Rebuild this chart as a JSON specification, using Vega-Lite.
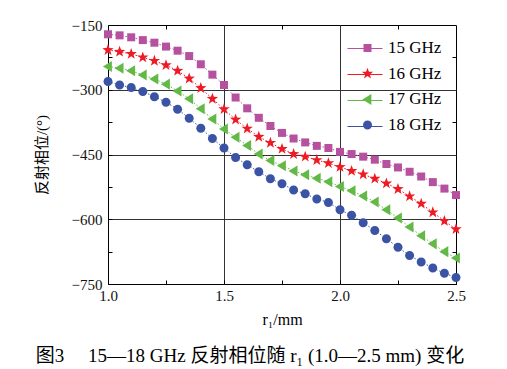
{
  "$schema": "https://vega.github.io/schema/vega-lite/v6.json",
  "width": 348,
  "height": 259,
  "autosize": "none",
  "padding": {"left": 108, "top": 25, "right": 51, "bottom": 85},
  "background": "white",
  "config": {
    "view": {"stroke": "#000", "strokeWidth": 1},
    "font": "Liberation Serif",
    "axis": {"labelFont": "Liberation Serif", "labelFontSize": 15, "labelColor": "#111", "tickColor": "#000", "domain": false, "labelFlush": false}
  },
  "title": {
    "text": "图3\u3000 15—18 GHz 反射相位随 r₁ (1.0—2.5 mm) 变化",
    "orient": "bottom",
    "anchor": "middle",
    "dx": -32,
    "offset": 20,
    "font": "Liberation Serif, Noto Sans CJK SC",
    "fontSize": 19,
    "fontWeight": "normal",
    "color": "#000"
  },
  "datasets": {
    "phase": [
      {"r1": 1.00, "phase": -171.5, "freq": "15 GHz"}, {"r1": 1.05, "phase": -174, "freq": "15 GHz"}, {"r1": 1.10, "phase": -178.5, "freq": "15 GHz"}, {"r1": 1.15, "phase": -185, "freq": "15 GHz"}, {"r1": 1.20, "phase": -191, "freq": "15 GHz"}, {"r1": 1.25, "phase": -200, "freq": "15 GHz"}, {"r1": 1.30, "phase": -209.5, "freq": "15 GHz"}, {"r1": 1.35, "phase": -222, "freq": "15 GHz"}, {"r1": 1.40, "phase": -241, "freq": "15 GHz"}, {"r1": 1.45, "phase": -265, "freq": "15 GHz"}, {"r1": 1.50, "phase": -289, "freq": "15 GHz"}, {"r1": 1.55, "phase": -318, "freq": "15 GHz"}, {"r1": 1.60, "phase": -343, "freq": "15 GHz"}, {"r1": 1.65, "phase": -365, "freq": "15 GHz"}, {"r1": 1.70, "phase": -384, "freq": "15 GHz"}, {"r1": 1.75, "phase": -400, "freq": "15 GHz"}, {"r1": 1.80, "phase": -413, "freq": "15 GHz"}, {"r1": 1.85, "phase": -422, "freq": "15 GHz"}, {"r1": 1.90, "phase": -430, "freq": "15 GHz"}, {"r1": 1.95, "phase": -435, "freq": "15 GHz"}, {"r1": 2.00, "phase": -444, "freq": "15 GHz"}, {"r1": 2.05, "phase": -449, "freq": "15 GHz"}, {"r1": 2.10, "phase": -455, "freq": "15 GHz"}, {"r1": 2.15, "phase": -462, "freq": "15 GHz"}, {"r1": 2.20, "phase": -472, "freq": "15 GHz"}, {"r1": 2.25, "phase": -480, "freq": "15 GHz"}, {"r1": 2.30, "phase": -490, "freq": "15 GHz"}, {"r1": 2.35, "phase": -501, "freq": "15 GHz"}, {"r1": 2.40, "phase": -514, "freq": "15 GHz"}, {"r1": 2.45, "phase": -529, "freq": "15 GHz"}, {"r1": 2.50, "phase": -544, "freq": "15 GHz"},
      {"r1": 1.00, "phase": -208, "freq": "16 GHz"}, {"r1": 1.05, "phase": -212, "freq": "16 GHz"}, {"r1": 1.10, "phase": -217, "freq": "16 GHz"}, {"r1": 1.15, "phase": -225, "freq": "16 GHz"}, {"r1": 1.20, "phase": -233, "freq": "16 GHz"}, {"r1": 1.25, "phase": -243, "freq": "16 GHz"}, {"r1": 1.30, "phase": -256, "freq": "16 GHz"}, {"r1": 1.35, "phase": -274, "freq": "16 GHz"}, {"r1": 1.40, "phase": -296, "freq": "16 GHz"}, {"r1": 1.45, "phase": -321, "freq": "16 GHz"}, {"r1": 1.50, "phase": -345, "freq": "16 GHz"}, {"r1": 1.55, "phase": -369, "freq": "16 GHz"}, {"r1": 1.60, "phase": -390, "freq": "16 GHz"}, {"r1": 1.65, "phase": -409, "freq": "16 GHz"}, {"r1": 1.70, "phase": -423, "freq": "16 GHz"}, {"r1": 1.75, "phase": -437, "freq": "16 GHz"}, {"r1": 1.80, "phase": -449, "freq": "16 GHz"}, {"r1": 1.85, "phase": -455, "freq": "16 GHz"}, {"r1": 1.90, "phase": -463, "freq": "16 GHz"}, {"r1": 1.95, "phase": -470, "freq": "16 GHz"}, {"r1": 2.00, "phase": -479, "freq": "16 GHz"}, {"r1": 2.05, "phase": -488, "freq": "16 GHz"}, {"r1": 2.10, "phase": -496, "freq": "16 GHz"}, {"r1": 2.15, "phase": -506, "freq": "16 GHz"}, {"r1": 2.20, "phase": -517, "freq": "16 GHz"}, {"r1": 2.25, "phase": -530, "freq": "16 GHz"}, {"r1": 2.30, "phase": -547, "freq": "16 GHz"}, {"r1": 2.35, "phase": -564, "freq": "16 GHz"}, {"r1": 2.40, "phase": -584, "freq": "16 GHz"}, {"r1": 2.45, "phase": -604, "freq": "16 GHz"}, {"r1": 2.50, "phase": -623, "freq": "16 GHz"},
      {"r1": 1.00, "phase": -246, "freq": "17 GHz"}, {"r1": 1.05, "phase": -250, "freq": "17 GHz"}, {"r1": 1.10, "phase": -256, "freq": "17 GHz"}, {"r1": 1.15, "phase": -266, "freq": "17 GHz"}, {"r1": 1.20, "phase": -275, "freq": "17 GHz"}, {"r1": 1.25, "phase": -287, "freq": "17 GHz"}, {"r1": 1.30, "phase": -303, "freq": "17 GHz"}, {"r1": 1.35, "phase": -321, "freq": "17 GHz"}, {"r1": 1.40, "phase": -344, "freq": "17 GHz"}, {"r1": 1.45, "phase": -368, "freq": "17 GHz"}, {"r1": 1.50, "phase": -391, "freq": "17 GHz"}, {"r1": 1.55, "phase": -410, "freq": "17 GHz"}, {"r1": 1.60, "phase": -429, "freq": "17 GHz"}, {"r1": 1.65, "phase": -449, "freq": "17 GHz"}, {"r1": 1.70, "phase": -464, "freq": "17 GHz"}, {"r1": 1.75, "phase": -476, "freq": "17 GHz"}, {"r1": 1.80, "phase": -488, "freq": "17 GHz"}, {"r1": 1.85, "phase": -497, "freq": "17 GHz"}, {"r1": 1.90, "phase": -505, "freq": "17 GHz"}, {"r1": 1.95, "phase": -513, "freq": "17 GHz"}, {"r1": 2.00, "phase": -524, "freq": "17 GHz"}, {"r1": 2.05, "phase": -534, "freq": "17 GHz"}, {"r1": 2.10, "phase": -546, "freq": "17 GHz"}, {"r1": 2.15, "phase": -560, "freq": "17 GHz"}, {"r1": 2.20, "phase": -578, "freq": "17 GHz"}, {"r1": 2.25, "phase": -597, "freq": "17 GHz"}, {"r1": 2.30, "phase": -618, "freq": "17 GHz"}, {"r1": 2.35, "phase": -638, "freq": "17 GHz"}, {"r1": 2.40, "phase": -657, "freq": "17 GHz"}, {"r1": 2.45, "phase": -675, "freq": "17 GHz"}, {"r1": 2.50, "phase": -690, "freq": "17 GHz"},
      {"r1": 1.00, "phase": -281, "freq": "18 GHz"}, {"r1": 1.05, "phase": -289, "freq": "18 GHz"}, {"r1": 1.10, "phase": -295, "freq": "18 GHz"}, {"r1": 1.15, "phase": -304, "freq": "18 GHz"}, {"r1": 1.20, "phase": -316, "freq": "18 GHz"}, {"r1": 1.25, "phase": -329, "freq": "18 GHz"}, {"r1": 1.30, "phase": -345, "freq": "18 GHz"}, {"r1": 1.35, "phase": -366, "freq": "18 GHz"}, {"r1": 1.40, "phase": -389, "freq": "18 GHz"}, {"r1": 1.45, "phase": -413, "freq": "18 GHz"}, {"r1": 1.50, "phase": -435, "freq": "18 GHz"}, {"r1": 1.55, "phase": -457, "freq": "18 GHz"}, {"r1": 1.60, "phase": -474, "freq": "18 GHz"}, {"r1": 1.65, "phase": -490, "freq": "18 GHz"}, {"r1": 1.70, "phase": -506, "freq": "18 GHz"}, {"r1": 1.75, "phase": -518, "freq": "18 GHz"}, {"r1": 1.80, "phase": -532, "freq": "18 GHz"}, {"r1": 1.85, "phase": -541, "freq": "18 GHz"}, {"r1": 1.90, "phase": -553, "freq": "18 GHz"}, {"r1": 1.95, "phase": -561, "freq": "18 GHz"}, {"r1": 2.00, "phase": -578, "freq": "18 GHz"}, {"r1": 2.05, "phase": -591, "freq": "18 GHz"}, {"r1": 2.10, "phase": -608, "freq": "18 GHz"}, {"r1": 2.15, "phase": -626, "freq": "18 GHz"}, {"r1": 2.20, "phase": -645, "freq": "18 GHz"}, {"r1": 2.25, "phase": -665, "freq": "18 GHz"}, {"r1": 2.30, "phase": -684, "freq": "18 GHz"}, {"r1": 2.35, "phase": -699, "freq": "18 GHz"}, {"r1": 2.40, "phase": -713, "freq": "18 GHz"}, {"r1": 2.45, "phase": -725, "freq": "18 GHz"}, {"r1": 2.50, "phase": -735, "freq": "18 GHz"}
    ]
  },
  "data": {"name": "phase"},
  "layer": [
    {
      "mark": {"type": "line", "strokeWidth": 1, "strokeDash": [1.5, 2]},
      "encoding": {
        "x": {
          "field": "r1", "type": "quantitative",
          "scale": {"domain": [1, 2.5], "nice": false, "zero": false},
          "axis": {"orient": "top", "values": [1.25, 1.75, 2.25], "labels": false, "grid": false, "tickSize": -4, "title": null}
        },
        "y": {
          "field": "phase", "type": "quantitative",
          "scale": {"domain": [-750, -150], "nice": false, "zero": false},
          "axis": {"orient": "right", "values": [-675, -525, -375, -225], "labels": false, "grid": false, "tickSize": -4, "title": null}
        },
        "stroke": {
          "field": "freq", "type": "nominal",
          "scale": {"domain": ["15 GHz", "16 GHz", "17 GHz", "18 GHz"], "range": ["#B6519F", "#ED1C24", "#63B946", "#3A53A4"]},
          "legend": {
            "orient": "none", "legendX": 239, "legendY": 5.5, "title": null, "padding": 0,
            "symbolType": "stroke", "symbolSize": 1225, "symbolStrokeWidth": 1, "symbolDash": [],
            "labelExpr": "''", "labelFontSize": 17, "labelFont": "Liberation Serif", "rowPadding": -10.3, "labelOffset": 2
          }
        }
      }
    },
    {
      "mark": {"type": "point", "filled": true, "opacity": 1, "strokeWidth": 0, "size": 144},
      "encoding": {
        "x": {
          "field": "r1", "type": "quantitative",
          "axis": {
            "orient": "bottom", "values": [1, 1.25, 1.5, 1.75, 2, 2.25, 2.5],
            "labelExpr": "(datum.value * 2) % 1 == 0 ? format(datum.value, '.1f') : ''",
            "grid": true, "gridColor": "#333", "gridWidth": 1,
            "gridOpacity": {"condition": {"test": "datum.value == 1.5 || datum.value == 2", "value": 1}, "value": 0},
            "tickSize": -4, "labelPadding": 8,
            "title": "r₁/mm", "titleFont": "Liberation Serif", "titleFontSize": 16, "titleFontWeight": "normal", "titlePadding": 8, "titleColor": "#000"
          }
        },
        "y": {
          "field": "phase", "type": "quantitative",
          "axis": {
            "orient": "left", "values": [-750, -675, -600, -525, -450, -375, -300, -225, -150],
            "labelExpr": "datum.value % 150 == 0 ? datum.label : ''",
            "grid": true, "gridColor": "#333", "gridWidth": 1,
            "gridOpacity": {"condition": {"test": "datum.value == -300 || datum.value == -450 || datum.value == -600", "value": 1}, "value": 0},
            "tickSize": -4, "labelPadding": 10,
            "title": "反射相位/(°)", "titleFont": "Liberation Serif, Noto Sans CJK SC", "titleFontSize": 15, "titleFontWeight": "normal", "titlePadding": 22, "titleColor": "#000"
          }
        },
        "fill": {
          "field": "freq", "type": "nominal",
          "scale": {"range": ["#B6519F", "#ED1C24", "#63B946", "#3A53A4"]},
          "legend": {
            "orient": "none", "legendX": 251, "legendY": 14.5, "title": null, "padding": 0,
            "labelFontSize": 17, "labelFont": "Liberation Serif", "labelColor": "#000", "rowPadding": 7.7, "labelOffset": 12,
            "symbolOpacity": 1, "symbolStrokeWidth": 0, "symbolSize": 144
          }
        },
        "shape": {
          "field": "freq", "type": "nominal",
          "scale": {"range": [
            "M-0.667,-0.667H0.667V0.667H-0.667Z",
            "M0,-1L0.235,-0.324L0.951,-0.309L0.380,0.124L0.588,0.809L0,0.4L-0.588,0.809L-0.380,0.124L-0.951,-0.309L-0.235,-0.324Z",
            "M-0.85,0L0.65,-0.92L0.65,0.92Z",
            "M-0.75,0A0.75,0.75,0,1,1,0.75,0A0.75,0.75,0,1,1,-0.75,0Z"
          ]}
        }
      }
    }
  ],
  "resolve": {"axis": {"x": "independent", "y": "independent"}}
}
